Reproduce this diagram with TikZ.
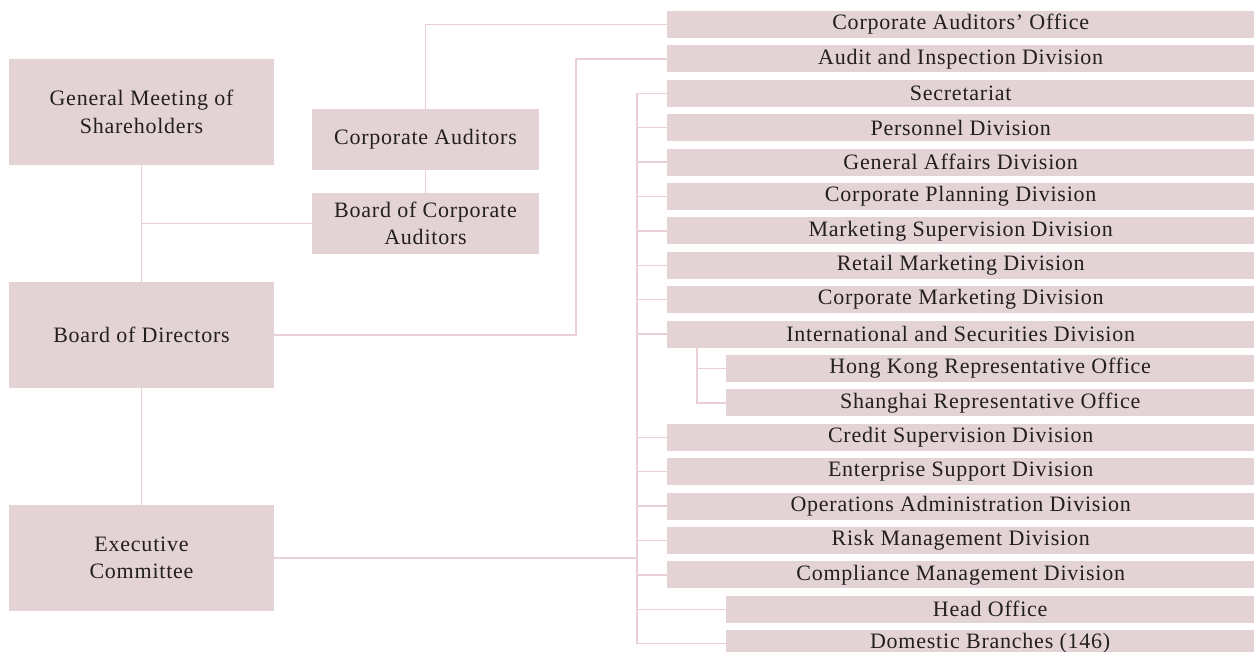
\documentclass[tikz,border=0pt]{standalone}
\usepackage{fontspec}
\setmainfont{Liberation Serif}[LetterSpace=3.5]
\definecolor{boxfill}{HTML}{E4D3D4}
\definecolor{linec}{HTML}{E9D0D4}
\definecolor{txt}{HTML}{231F20}
\begin{document}
\begin{tikzpicture}[x=1pt,y=-1pt,
  box/.style={fill=boxfill, inner sep=0pt, text=txt, align=center,
    font=\fontsize{22}{27.5}\selectfont},
  bigbox/.style={box, minimum width=265pt, minimum height=106pt},
  midbox/.style={box, minimum width=227pt, minimum height=61pt},
  rowbox/.style={box, minimum width=587pt, minimum height=27pt, anchor=west},
  subbox/.style={box, minimum width=528pt, minimum height=27pt, anchor=west},
  conn/.style={draw=linec, line width=1.4pt}]
\useasboundingbox (0,0) rectangle (1254,652);
% left column
\node[bigbox] (gm) at (141.5,112) {General Meeting of\\Shareholders};
\node[bigbox] (bod) at (141.5,335) {Board of Directors};
\node[bigbox] (exec) at (141.5,558) {Executive\\Committee};
\node[midbox] (ca) at (425.5,139.5) {Corporate Auditors};
\node[midbox] (bca) at (425.5,223.5) {Board of Corporate\\Auditors};
% right column
\node[rowbox] (r0) at (667,24.5) {Corporate Auditors’ Office};
\node[rowbox] (r1) at (667,58.9) {Audit and Inspection Division};
\node[rowbox] (r2) at (667,93.3) {Secretariat};
\node[rowbox] (r3) at (667,127.7) {Personnel Division};
\node[rowbox] (r4) at (667,162.1) {General Affairs Division};
\node[rowbox] (r5) at (667,196.5) {Corporate Planning Division};
\node[rowbox] (r6) at (667,230.9) {Marketing Supervision Division};
\node[rowbox] (r7) at (667,265.3) {Retail Marketing Division};
\node[rowbox] (r8) at (667,299.7) {Corporate Marketing Division};
\node[rowbox] (r9) at (667,334.1) {International and Securities Division};
\node[subbox] (r10) at (726,368.5) {Hong Kong Representative Office};
\node[subbox] (r11) at (726,402.9) {Shanghai Representative Office};
\node[rowbox] (r12) at (667,437.3) {Credit Supervision Division};
\node[rowbox] (r13) at (667,471.7) {Enterprise Support Division};
\node[rowbox] (r14) at (667,506.1) {Operations Administration Division};
\node[rowbox] (r15) at (667,540.5) {Risk Management Division};
\node[rowbox] (r16) at (667,574.9) {Compliance Management Division};
\node[subbox] (r17) at (726,609.3) {Head Office};
\node[subbox] (r18) at (726,643.7) {Domestic Branches (146)};
% connectors
\coordinate (busx) at (637,0);
\coordinate (subx) at (697,0);
\coordinate (aj) at (576,58.9);
\draw[conn] (gm.south) -- (bod.north);
\draw[conn] (bod.south) -- (exec.north);
\draw[conn] (gm.south |- bca.west) -- (bca.west);
\draw[conn] (ca.south) -- (bca.north);
\draw[conn] (ca.north) |- (r0.west);
\draw[conn] (bod.east) -| (aj) -- (r1.west);
\draw[conn] (exec.east) -- (exec.east -| busx);
\draw[conn] (r2.west -| busx) -- (r18.west -| busx);
\foreach \i in {2,...,9,12,13,14,15,16,17,18}
  \draw[conn] (r\i.west -| busx) -- (r\i.west);
\draw[conn] (r9.south -| subx) |- (r11.west);
\draw[conn] (r10.west -| subx) -- (r10.west);
\end{tikzpicture}
\end{document}
